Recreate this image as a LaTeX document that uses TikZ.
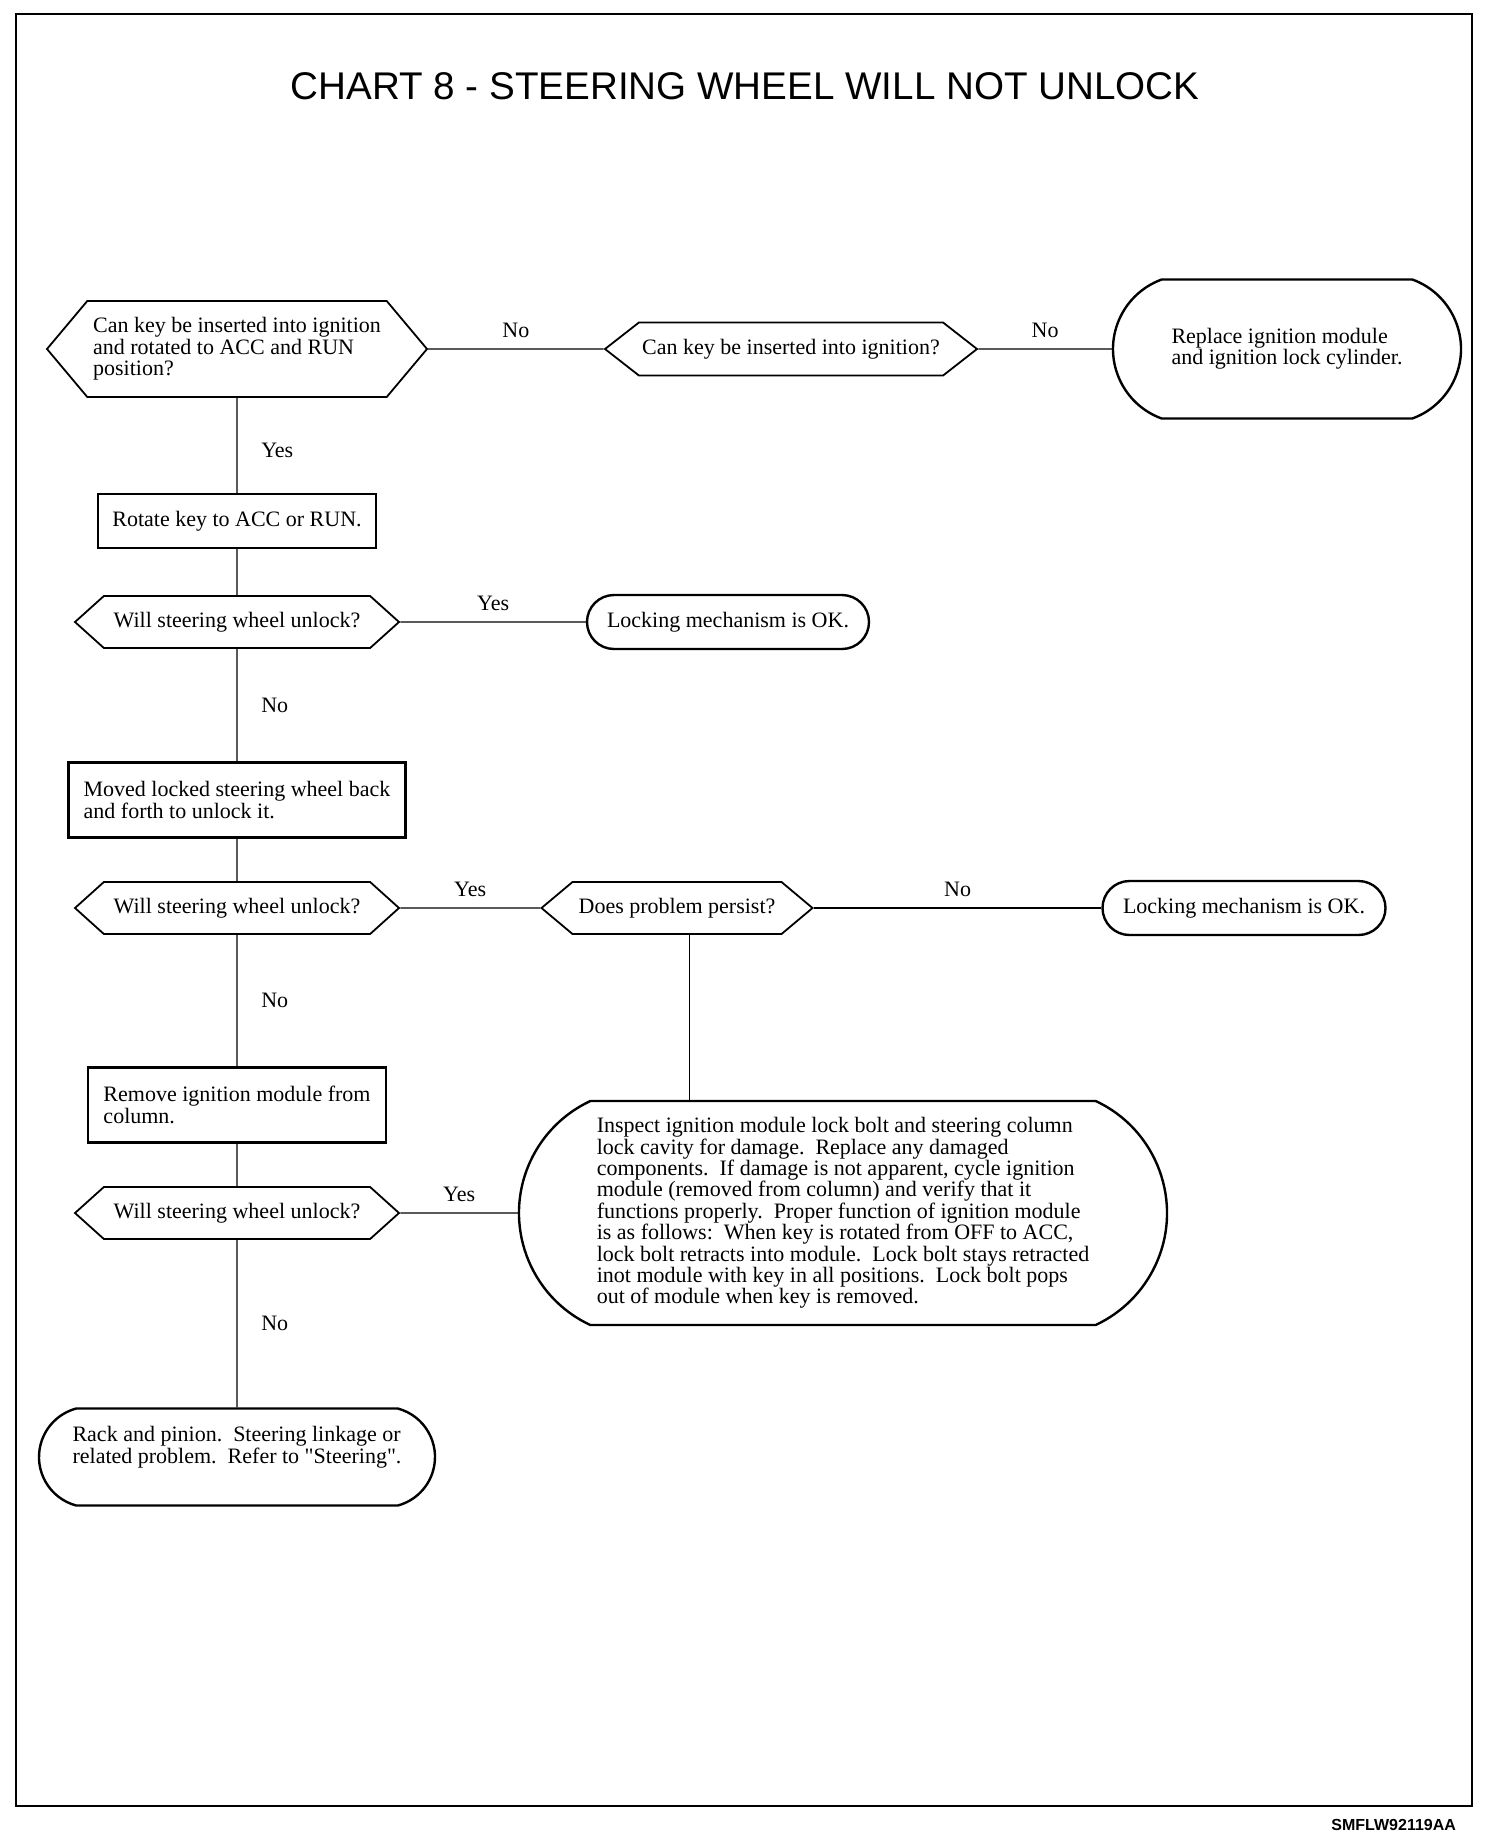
\documentclass[tikz,border=0pt]{standalone}
\usepackage{fontspec}
\setmainfont{Liberation Serif}[Ligatures=TeXOff]
\newfontfamily\chartsans{Liberation Sans}
\usetikzlibrary{shapes,shapes.symbols,shapes.misc,positioning}

\begin{document}
\begin{tikzpicture}[x=0.5pt,y=-0.5pt,
    every node/.style={font=\fontsize{11}{10.7}\selectfont},
    question/.style={draw,line width=0.9pt,signal,signal to=west and east,signal pointer angle=84,inner sep=1pt,align=center},
    action/.style={draw,line width=1.2pt,rectangle,align=left,inner sep=1pt},
    result/.style={draw,line width=1.2pt,rounded rectangle,align=left,inner sep=1pt},
    link/.style={line width=0.6pt}]
    \useasboundingbox (0,0) rectangle (1504,1836);
    \draw[line width=0.8pt] (16,14) rectangle (1472,1806);

    \node[font=\chartsans\fontsize{19.3}{20}\selectfont] (title) at (745,86) {CHART 8 - STEERING WHEEL WILL NOT UNLOCK};
    \node[font=\chartsans\bfseries\fontsize{8}{9}\selectfont,anchor=east] (code) at (1463,1825) {SMFLW92119AA};

    % top row
    \node[question,align=left,signal pointer angle=100,minimum width=190pt,minimum height=48pt] (q1) at (237,349) {Can key be inserted into ignition\\and rotated to ACC and RUN\\position?};
    \node[question,signal pointer angle=76,minimum width=186pt,minimum height=26.5pt] (q2) at (791,349) {Can key be inserted into ignition?};
    \node[result,rounded rectangle arc length=140,minimum width=176pt,minimum height=69.5pt] (t1) at (1287,349) {Replace ignition module\\and ignition lock cylinder.};

    % left column
    \node[action,minimum width=139pt,minimum height=27pt] (b1) at (237,521) {Rotate key to ACC or RUN.};
    \node[question,minimum width=162pt,minimum height=26pt] (q3) at (237,622) {Will steering wheel unlock?};
    \node[result,minimum width=143pt,minimum height=27pt] (t2) at (728,622) {Locking mechanism is OK.};
    \node[action,minimum width=168.5pt,minimum height=37.5pt] (b2) at (237,800) {Moved locked steering wheel back\\and forth to unlock it.};
    \node[question,minimum width=162pt,minimum height=26pt] (q4) at (237,908) {Will steering wheel unlock?};
    \node[question,signal pointer angle=80,minimum width=135.5pt,minimum height=26pt] (q5) at (677,908) {Does problem persist?};
    \node[result,minimum width=143.5pt,minimum height=27pt] (t3) at (1244,908) {Locking mechanism is OK.};
    \node[action,minimum width=149pt,minimum height=37.5pt] (b3) at (237,1105) {Remove ignition module from\\column.};
    \node[question,minimum width=162pt,minimum height=26pt] (q6) at (237,1213) {Will steering wheel unlock?};
    \node[result,rounded rectangle arc length=130,minimum width=326pt,minimum height=112pt] (t4) at (843,1213) {Inspect ignition module lock bolt and steering column\\lock cavity for damage.\ \ Replace any damaged\\components.\ \ If damage is not apparent, cycle ignition\\module (removed from column) and verify that it\\functions properly.\ \ Proper function of ignition module\\is as follows:\ \ When key is rotated from OFF to ACC,\\lock bolt retracts into module.\ \ Lock bolt stays retracted\\inot module with key in all positions.\ \ Lock bolt pops\\out of module when key is removed.};
    \node[result,rounded rectangle arc length=150,minimum width=200pt,minimum height=48.5pt] (t5) at (237,1457) {Rack and pinion.\ \ Steering linkage or\\related problem.\ \ Refer to "Steering".\rule[-12pt]{0pt}{12pt}};

    % connectors
    \draw[link] (q1) -- node[midway,above=2pt] {No} (q2);
    \draw[link] (q2) -- node[midway,above=2pt] {No} (t1);
    \draw[link] (q1) -- node[pos=0.55,right=8.5pt] {Yes} (b1);
    \draw[link] (b1) -- (q3);
    \draw[link] (q3) -- node[midway,above=2pt] {Yes} (t2);
    \draw[link] (q3) -- node[midway,right=8.5pt] {No} (b2);
    \draw[link] (b2) -- (q4);
    \draw[link] (q4) -- node[midway,above=2pt] {Yes} (q5);
    \draw[link] (q5) -- node[midway,above=2pt] {No} (t3);
    \draw[link] ([xshift=6.2pt]q5.south) -- ([xshift=6.2pt]q5.south |- t4.north);
    \draw[link] (q4) -- node[midway,right=8.5pt] {No} (b3);
    \draw[link] (b3) -- (q6);
    \draw[link] (q6) -- node[midway,above=2pt] {Yes} (t4);
    \draw[link] (q6) -- node[midway,right=8.5pt] {No} (t5);
\end{tikzpicture}
\end{document}
